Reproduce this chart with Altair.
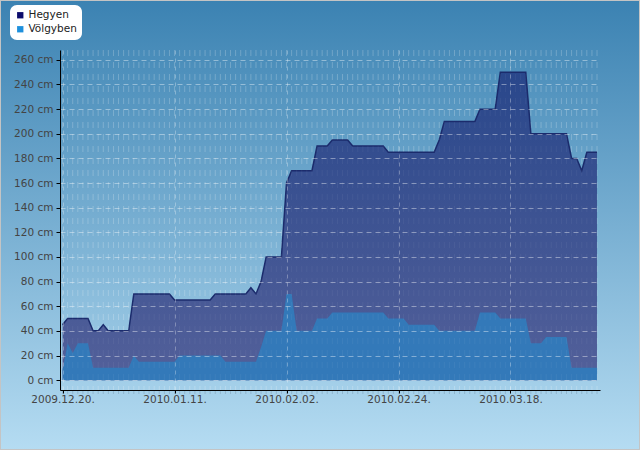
import altair as alt
import pandas as pd

# ---- data ----
heg_dates = ["2009-12-20", "2009-12-21", "2009-12-25", "2009-12-26", "2009-12-27", "2009-12-28",
             "2009-12-29", "2010-01-02", "2010-01-03", "2010-01-10", "2010-01-11", "2010-01-18",
             "2010-01-19", "2010-01-25", "2010-01-26", "2010-01-27", "2010-01-28", "2010-01-29",
             "2010-02-01", "2010-02-02", "2010-02-03", "2010-02-07", "2010-02-08", "2010-02-10",
             "2010-02-11", "2010-02-14", "2010-02-15", "2010-02-21", "2010-02-22", "2010-03-03",
             "2010-03-04", "2010-03-05", "2010-03-11", "2010-03-12", "2010-03-15", "2010-03-16",
             "2010-03-21", "2010-03-22", "2010-03-29", "2010-03-30", "2010-03-31", "2010-04-01",
             "2010-04-02", "2010-04-04"]
heg_values = [45, 50, 50, 40, 40, 45,
              40, 40, 70, 70, 65, 65,
              70, 70, 75, 70, 80, 100,
              100, 160, 170, 170, 190, 190,
              195, 195, 190, 190, 185, 185,
              195, 210, 210, 220, 220, 250,
              250, 200, 200, 180, 180, 170,
              185, 185]

volg_dates = ["2009-12-20", "2009-12-21", "2009-12-22", "2009-12-23", "2009-12-25", "2009-12-26",
              "2010-01-02", "2010-01-03", "2010-01-04", "2010-01-11", "2010-01-12", "2010-01-20",
              "2010-01-21", "2010-01-27", "2010-01-28", "2010-01-29", "2010-02-01", "2010-02-02",
              "2010-02-03", "2010-02-04", "2010-02-07", "2010-02-08", "2010-02-10", "2010-02-11",
              "2010-02-21", "2010-02-22", "2010-02-25", "2010-02-26", "2010-03-03", "2010-03-04",
              "2010-03-11", "2010-03-12", "2010-03-15", "2010-03-16", "2010-03-21", "2010-03-22",
              "2010-03-24", "2010-03-25", "2010-03-29", "2010-03-30", "2010-04-04"]
volg_values = [8, 30, 22, 30, 30, 10,
               10, 20, 15, 15, 20, 20,
               15, 15, 27, 40, 40, 70,
               70, 40, 40, 50, 50, 55,
               55, 50, 50, 45, 45, 40,
               40, 55, 55, 50, 50, 30,
               30, 35, 35, 10, 10]

series_names = ["Hegyen", "Völgyben"]
series_colors = ["#0c0c6c", "#1e90dc"]
x_tick_dates = [(2009, 12, 20), (2010, 1, 11), (2010, 2, 2), (2010, 2, 24), (2010, 3, 18)]
y_ticks = list(range(0, 261, 20))
minor_days = [d.strftime("%Y-%m-%d") for d in pd.date_range("2009-12-20", "2010-04-04", freq="D")]

heg_df = pd.DataFrame({"date": heg_dates, "cm": heg_values})
volg_df = pd.DataFrame({"date": volg_dates, "cm": volg_values})
minor_df = pd.DataFrame({"date": minor_days})
legend_df = pd.DataFrame({"series": series_names})
one_row = pd.DataFrame({"a": [0]})

FONT = "DejaVu Sans"

x_scale = alt.Scale(type="utc",
                    domain=[alt.DateTime(year=2009, month=12, date=19, hours=12, utc=True),
                            alt.DateTime(year=2010, month=4, date=4, hours=14, utc=True)])
y_scale = alt.Scale(domain=[-8, 268], nice=False, zero=False)

x_axis = alt.Axis(values=[alt.DateTime(year=y, month=m, date=d, utc=True) for (y, m, d) in x_tick_dates],
                  format="%Y.%m.%d.", title=None, domainColor="black", domainWidth=1,
                  tickColor="black", tickSize=3, labelPadding=1, labelFont=FONT, labelFontSize=10.5,
                  labelColor="#444", grid=True, gridColor="white", gridOpacity=0.3,
                  gridDash=[4, 4], zindex=1, labelFlush=False)
y_axis = alt.Axis(values=y_ticks, labelExpr="datum.value + ' cm'", title=None,
                  domainColor="black", domainWidth=1, tickColor="black", tickSize=4,
                  labelPadding=3, labelFont=FONT, labelFontSize=10.5, labelColor="#444",
                  grid=True, gridColor="white", gridOpacity=0.4, gridDash=[5, 4], zindex=1)

bg_grad = alt.Gradient(gradient="linear",
                       stops=[alt.GradientStop(color="#3b82b2", offset=0),
                              alt.GradientStop(color="#b5dcf2", offset=1)],
                       x1=0, x2=0, y1=0, y2=1)
heg_grad = alt.Gradient(gradient="linear",
                        stops=[alt.GradientStop(color="#29478b", offset=0),
                               alt.GradientStop(color="#53609a", offset=1)],
                        x1=0, x2=0, y1=0, y2=1)

background = alt.Chart(one_row).mark_rect(fill=bg_grad, stroke="#c4c4c4", strokeWidth=2).encode(
    x=alt.value(-60), x2=alt.value(580), y=alt.value(-50), y2=alt.value(400))

minor_grid = alt.Chart(minor_df).mark_rule(color="white", opacity=0.18, strokeDash=[6, 6]).encode(
    x=alt.X("date:T", scale=x_scale, axis=x_axis),
    y=alt.value(0), y2=alt.value(340))

heg = alt.Chart(heg_df).mark_area(color=heg_grad, opacity=1, fillOpacity=1,
                                  line={"color": "#1b2b6c", "strokeWidth": 1.5}).encode(
    x=alt.X("date:T", scale=x_scale, axis=x_axis),
    y=alt.Y("cm:Q", scale=y_scale, axis=y_axis))

volg = alt.Chart(volg_df).mark_area(color="#3379b9", opacity=1, fillOpacity=1).encode(
    x=alt.X("date:T", scale=x_scale, axis=x_axis),
    y=alt.Y("cm:Q", scale=y_scale, axis=y_axis))

minor_grid_top = alt.Chart(minor_df).mark_rule(color="white", opacity=0.05, strokeDash=[6, 6]).encode(
    x=alt.X("date:T", scale=x_scale, axis=x_axis),
    y=alt.value(0), y2=alt.value(340))

minor_ticks = alt.Chart(minor_df).mark_rule(color="#8fb4cc", opacity=0.9).encode(
    x=alt.X("date:T", scale=x_scale, axis=x_axis),
    y=alt.value(341), y2=alt.value(344))

legend_layer = alt.Chart(legend_df).mark_square(opacity=0).encode(
    color=alt.Color("series:N",
                    scale=alt.Scale(domain=series_names, range=series_colors),
                    legend=alt.Legend(title=None, orient="none", legendX=-50, legendY=-45,
                                      fillColor="white", cornerRadius=7, padding=5,
                                      symbolType="square", symbolSize=40, symbolOpacity=1,
                                      symbolStrokeWidth=0, labelFont=FONT, labelFontSize=10.5,
                                      labelColor="#222", rowPadding=3, labelOffset=3)))

chart = alt.layer(background, minor_grid, heg, volg, minor_grid_top, minor_ticks, legend_layer).properties(
    width=540, height=340,
    autosize=alt.AutoSizeParams(type="none"),
    padding={"left": 60, "top": 50, "right": 40, "bottom": 60},
).configure_view(stroke=None).configure(background="#b5dcf2")

chart.save("out.html", embed_options={"renderer": "svg", "actions": False})
